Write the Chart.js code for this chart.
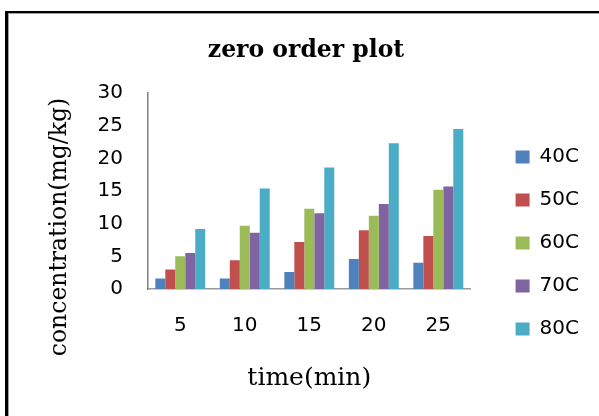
<!DOCTYPE html>
<html>
<head>
<meta charset="utf-8">
<script src="https://cdn.jsdelivr.net/npm/chart.js@4.4.0/dist/chart.umd.min.js"></script>
<style>
  html, body { margin: 0; padding: 0; background: #fff; overflow: hidden; }
  canvas { display: block; }
</style>
</head>
<body>
<canvas id="zeroOrderChart" width="599" height="416"></canvas>
<script>
// time (min) categories and concentration values
const timeLabels = ['5', '10', '15', '20', '25'];
const conc40C = [1.6, 1.6, 2.6, 4.6, 4.0];
const conc50C = [3.0, 4.4, 7.2, 9.0, 8.1];
const conc60C = [5.0, 9.7, 12.3, 11.2, 15.2];
const conc70C = [5.5, 8.6, 11.6, 13.0, 15.7];
const conc80C = [9.2, 15.4, 18.6, 22.3, 24.5];

const tickFont = { family: 'DejaVu Sans', size: 20 };

// frame (top + left edge only), main title and rotated y title
const decorPlugin = {
    id: 'decor',
    beforeDraw(chart) {
        const ctx = chart.ctx;
        ctx.save();
        ctx.fillStyle = '#000';
        ctx.fillRect(5, 11, chart.width - 5, 2);
        ctx.fillRect(5, 11, 3, chart.height - 11);
        ctx.fillStyle = '#a0a0a0';
        ctx.fillRect(8, 13, chart.width - 8, 1);
        ctx.fillRect(8, 13, 1, chart.height - 13);
        ctx.restore();
    },
    afterDraw(chart) {
        const ctx = chart.ctx;
        ctx.save();
        ctx.fillStyle = '#000';
        ctx.textAlign = 'center';
        ctx.textBaseline = 'alphabetic';
        ctx.font = 'bold 23.5px "DejaVu Serif"';
        ctx.fillText('zero order plot', 306, 57);
        ctx.font = '23.5px "DejaVu Serif"';
        ctx.translate(66, 227);
        ctx.rotate(-Math.PI / 2);
        ctx.fillText('concentration(mg/kg)', 0, 0);
        ctx.restore();
    }
};

const ctx = document.getElementById('zeroOrderChart').getContext('2d');
new Chart(ctx, {
    type: 'bar',
    data: {
        labels: timeLabels,
        datasets: [
            { label: '40C', data: conc40C, backgroundColor: '#4F81BD' },
            { label: '50C', data: conc50C, backgroundColor: '#C0504D' },
            { label: '60C', data: conc60C, backgroundColor: '#9BBB59' },
            { label: '70C', data: conc70C, backgroundColor: '#8064A2' },
            { label: '80C', data: conc80C, backgroundColor: '#4BACC6' }
        ]
    },
    options: {
        responsive: false,
        animation: false,
        datasets: {
            bar: { categoryPercentage: 0.774, barPercentage: 1.0, borderWidth: 0 }
        },
        layout: {
            padding: { left: 0, top: 93, right: 10, bottom: 23 }
        },
        plugins: {
            title: { display: false },
            tooltip: { enabled: false },
            legend: {
                position: 'right',
                labels: {
                    font: tickFont,
                    color: '#000',
                    boxWidth: 14,
                    boxHeight: 13,
                    padding: 23
                }
            }
        },
        scales: {
            x: {
                grid: { display: false, drawTicks: false },
                border: { color: '#9a9a9a', width: 1.5 },
                ticks: { font: tickFont, color: '#000', padding: 25 },
                title: {
                    display: true,
                    text: 'time(min)',
                    color: '#000',
                    font: { family: 'DejaVu Serif', size: 25 },
                    padding: 0
                },
                afterFit: (s) => { s.height = 104; }
            },
            y: {
                min: 0,
                max: 30,
                grid: { display: false, drawTicks: false },
                border: { color: '#7f7f7f', width: 1.5 },
                ticks: { stepSize: 5, font: tickFont, color: '#000', padding: 25 },
                afterFit: (s) => { s.width = 148; }
            },
            // empty axis only used to leave the gap between plot and legend
            y2: {
                position: 'right',
                grid: { display: false },
                ticks: { display: false },
                border: { display: false },
                afterFit: (s) => { s.width = 22; }
            }
        }
    },
    plugins: [decorPlugin]
});
</script>
</body>
</html>
